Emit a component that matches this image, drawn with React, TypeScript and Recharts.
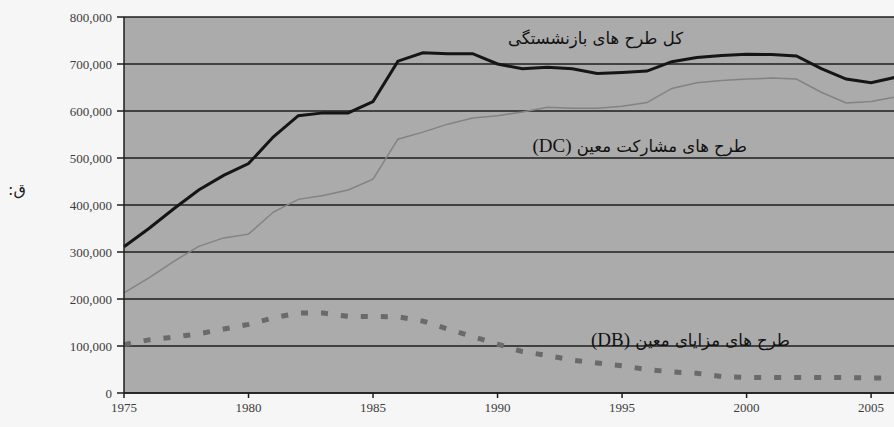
import { CartesianGrid, Line, LineChart, XAxis, YAxis } from 'recharts';

const years = [
  1975, 1976, 1977, 1978, 1979, 1980, 1981, 1982, 1983, 1984, 1985, 1986, 1987, 1988, 1989, 1990,
  1991, 1992, 1993, 1994, 1995, 1996, 1997, 1998, 1999, 2000, 2001, 2002, 2003, 2004, 2005, 2006,
];

// all plans (black)
const totalPlans = [
  311000, 350000, 392000, 432000, 463000, 488000, 545000, 590000, 596000, 596000, 620000, 706000,
  724000, 722000, 722000, 700000, 690000, 693000, 690000, 680000, 682000, 685000, 705000, 714000,
  718000, 721000, 720000, 717000, 690000, 668000, 660000, 672000,
];

// defined contribution (DC)
const dcPlans = [
  213000, 245000, 280000, 312000, 330000, 338000, 385000, 412000, 420000, 432000, 455000, 540000,
  555000, 572000, 585000, 590000, 598000, 608000, 606000, 606000, 610000, 618000, 648000, 660000,
  665000, 668000, 670000, 668000, 640000, 617000, 620000, 630000,
];

// defined benefit (DB)
const dbPlans = [
  103000, 113000, 119000, 126000, 136000, 146000, 160000, 170000, 170000, 163000, 163000, 162000,
  153000, 136000, 120000, 104000, 88000, 80000, 70000, 64000, 58000, 50000, 45000, 42000, 35000,
  33000, 33000, 33000, 33000, 33000, 32000, 32000,
];

const yTicks = [0, 100000, 200000, 300000, 400000, 500000, 600000, 700000, 800000];
const xTicks = [1975, 1980, 1985, 1990, 1995, 2000, 2005];

const labelTotal = 'کل طرح های بازنشستگی';
const labelDC = 'طرح های مشارکت معین';
const labelDB = 'طرح های مزایای معین';
const sideLetter = '\u0642';

const data = years.map((year, i) => ({
  year,
  total: totalPlans[i],
  dc: dcPlans[i],
  db: dbPlans[i],
}));

const tickStyle = { fill: '#3c3c3c', fontSize: 13, fontFamily: '"Liberation Serif", serif' };
const persianFont = '"DejaVu Sans", sans-serif';

export default function App() {
  return (
    <div
      style={{
        position: 'absolute',
        left: 0,
        top: 0,
        width: 894,
        height: 427,
        overflow: 'hidden',
        background: '#f6f6f6',
      }}
    >
      <LineChart width={896} height={427} data={data} margin={{ top: 17, right: 0, bottom: 0, left: 0 }}>
        <CartesianGrid vertical={false} stroke="#1e1e1e" strokeWidth={1.5} fill="#ababab" fillOpacity={1} />
        <XAxis
          dataKey="year"
          type="number"
          domain={[1975, 2006]}
          ticks={xTicks}
          height={34}
          tick={tickStyle}
          tickSize={5}
          tickMargin={5}
          stroke="#1e1e1e"
          strokeWidth={1.5}
        />
        <YAxis
          width={124}
          domain={[0, 800000]}
          ticks={yTicks}
          tickFormatter={(v) => Number(v).toLocaleString('en-US')}
          tick={tickStyle}
          tickSize={7}
          tickMargin={5}
          stroke="#1e1e1e"
          strokeWidth={1.5}
        />
        <Line dataKey="dc" type="linear" stroke="#838383" strokeWidth={1.5} dot={false} isAnimationActive={false} />
        <Line
          dataKey="db"
          type="linear"
          stroke="#6a6a6a"
          strokeWidth={5}
          strokeDasharray="7 13"
          dot={false}
          isAnimationActive={false}
        />
        <Line dataKey="total" type="linear" stroke="#151515" strokeWidth={3} dot={false} isAnimationActive={false} />
      </LineChart>

      <div
        style={{
          position: 'absolute',
          left: 8,
          top: 180,
          display: 'flex',
          fontSize: 16,
          fontFamily: persianFont,
          color: '#222',
        }}
      >
        <span>:</span>
        <span>{sideLetter}</span>
      </div>
      <div
        dir="rtl"
        style={{ position: 'absolute', right: 211, top: 29, fontSize: 16.5, fontFamily: persianFont, color: '#111' }}
      >
        {labelTotal}
      </div>
      <div
        dir="rtl"
        style={{ position: 'absolute', right: 147, top: 135, fontSize: 16.5, fontFamily: persianFont, color: '#111' }}
      >
        {labelDC} <span style={{ fontFamily: '"Liberation Serif", serif', fontSize: 19 }}>(DC)</span>
      </div>
      <div
        dir="rtl"
        style={{ position: 'absolute', right: 104, top: 329, fontSize: 16.5, fontFamily: persianFont, color: '#111' }}
      >
        {labelDB} <span style={{ fontFamily: '"Liberation Serif", serif', fontSize: 19 }}>(DB)</span>
      </div>
    </div>
  );
}
